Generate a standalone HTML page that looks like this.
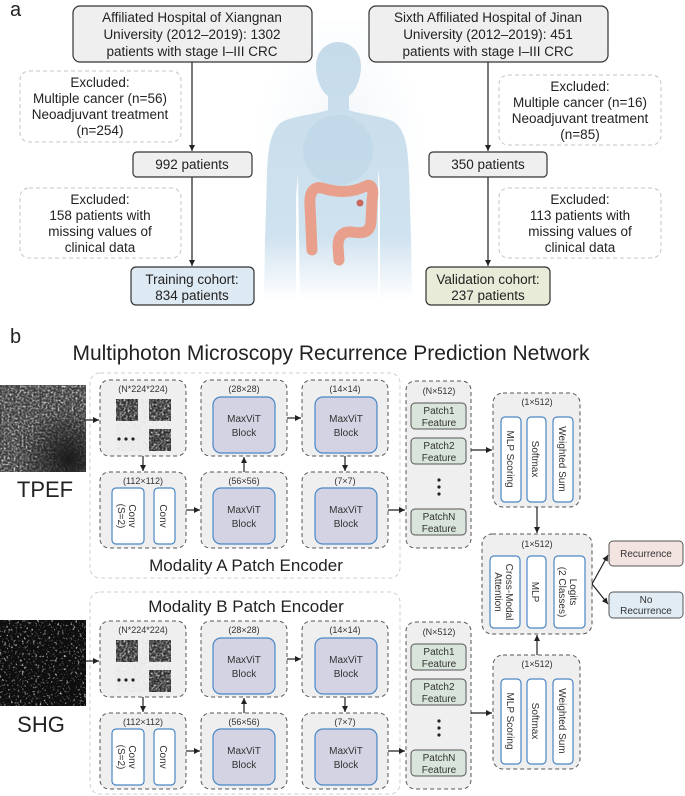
<!DOCTYPE html>
<html><head><meta charset="utf-8"><style>
html,body{margin:0;padding:0;background:#fff;}
svg{display:block;font-family:"Liberation Sans Narrow","Liberation Sans",sans-serif;}
</style></head><body>
<svg width="685" height="796" viewBox="0 0 685 796" xmlns="http://www.w3.org/2000/svg">
<defs>
<marker id="ar" markerWidth="8" markerHeight="8" refX="6" refY="3" orient="auto" markerUnits="userSpaceOnUse"><path d="M0,0 L6,3 L0,6 z" fill="#222"/></marker>
<linearGradient id="body" x1="0" y1="0" x2="0" y2="1">
<stop offset="0" stop-color="#c6dbea"/><stop offset="0.75" stop-color="#cfe2ef"/><stop offset="1" stop-color="#ffffff"/></linearGradient>
<radialGradient id="glow" cx="0.5" cy="0.45" r="0.5"><stop offset="0" stop-color="#f2f6f9"/><stop offset="1" stop-color="#ffffff"/></radialGradient>
<filter id="tex" x="0" y="0" width="100%" height="100%"><feTurbulence type="fractalNoise" baseFrequency="0.5" numOctaves="2" seed="3"/><feColorMatrix type="matrix" values="0 0 0 0 0.75  0 0 0 0 0.75  0 0 0 0 0.75  1.2 1.2 1.2 0 -1.6"/></filter>
<filter id="tex2" x="0" y="0" width="100%" height="100%"><feTurbulence type="fractalNoise" baseFrequency="0.45" numOctaves="2" seed="8"/><feColorMatrix type="matrix" values="0 0 0 0 0.85  0 0 0 0 0.85  0 0 0 0 0.85  1.6 1.6 1.6 0 -2.6"/></filter>
<radialGradient id="dark" cx="0.8" cy="0.85" r="0.6"><stop offset="0" stop-color="#1a1a1a"/><stop offset="1" stop-color="#1a1a1a" stop-opacity="0"/></radialGradient>
</defs>

<!-- ===== Part a ===== -->
<text x="10" y="16" font-size="20" fill="#222">a</text>
<rect x="255" y="20" width="170" height="280" fill="url(#glow)"/>
<g>
<path d="M338,42 C326,42 316,52 316,66 C316,80 322,92 328,96 L328,110 C318,114 292,116 282,122 C270,130 268,150 267,175 L265,240 L264,300 L296,300 L296,200 C296,190 298,180 298,170 L300,300 L378,300 L378,170 C380,180 380,190 380,200 L380,300 L412,300 L411,240 L409,175 C408,150 406,130 394,122 C384,116 358,114 349,110 L349,96 C355,92 361,80 361,66 C361,52 351,42 338,42 Z" fill="url(#body)"/>
<ellipse cx="338" cy="150" rx="35" ry="35" fill="#b9d3e6" opacity="0.5"/>
</g>
<path d="M312,250 L310,205 C309,192 314,186 322,188 C335,192 350,194 366,186 C372,183 374,190 372,200 L371,222 C370,232 364,234 352,232 C343,231 338,236 338,246 L339,260" fill="none" stroke="#e8a08c" stroke-width="11" stroke-linecap="round" stroke-linejoin="round"/>
<circle cx="360" cy="203" r="3.5" fill="#c9685e"/>

<g font-size="13.5" fill="#222" text-anchor="middle">
<rect x="73" y="6" width="239" height="56" rx="7" fill="#efefef" stroke="#333" stroke-width="1.2"/>
<text x="192" y="22">Affiliated Hospital of Xiangnan</text>
<text x="192" y="39">University (2012–2019): 1302</text>
<text x="192" y="56">patients with stage I–III CRC</text>
<rect x="369" y="6" width="239" height="56" rx="7" fill="#efefef" stroke="#333" stroke-width="1.2"/>
<text x="488" y="22">Sixth Affiliated Hospital of Jinan</text>
<text x="488" y="39">University (2012–2019): 451</text>
<text x="488" y="56">patients with stage I–III CRC</text>

<rect x="20" y="71" width="161" height="71" rx="9" fill="#fff" stroke="#c4c4c4" stroke-dasharray="4,3"/>
<text x="100" y="87">Excluded:</text>
<text x="100" y="103">Multiple cancer (n=56)</text>
<text x="100" y="119">Neoadjuvant treatment</text>
<text x="100" y="135">(n=254)</text>
<rect x="499" y="75" width="162" height="70" rx="9" fill="#fff" stroke="#c4c4c4" stroke-dasharray="4,3"/>
<text x="580" y="91">Excluded:</text>
<text x="580" y="107">Multiple cancer (n=16)</text>
<text x="580" y="123">Neoadjuvant treatment</text>
<text x="580" y="139">(n=85)</text>

<rect x="133" y="152" width="119" height="25" rx="4" fill="#efefef" stroke="#333" stroke-width="1.2"/>
<text x="192" y="169">992 patients</text>
<rect x="429" y="152" width="118" height="25" rx="4" fill="#efefef" stroke="#333" stroke-width="1.2"/>
<text x="488" y="169">350 patients</text>

<rect x="20" y="188" width="161" height="70" rx="9" fill="#fff" stroke="#c4c4c4" stroke-dasharray="4,3"/>
<text x="100" y="204">Excluded:</text>
<text x="100" y="220">158 patients with</text>
<text x="100" y="236">missing values of</text>
<text x="100" y="252">clinical data</text>
<rect x="499" y="188" width="162" height="70" rx="9" fill="#fff" stroke="#c4c4c4" stroke-dasharray="4,3"/>
<text x="580" y="204">Excluded:</text>
<text x="580" y="220">113 patients with</text>
<text x="580" y="236">missing values of</text>
<text x="580" y="252">clinical data</text>

<rect x="131" y="267" width="123" height="38" rx="5" fill="#dde9f3" stroke="#333" stroke-width="1.2"/>
<text x="192" y="284">Training cohort:</text>
<text x="192" y="300">834 patients</text>
<rect x="426" y="267" width="124" height="38" rx="5" fill="#e7ebd8" stroke="#333" stroke-width="1.2"/>
<text x="488" y="284">Validation cohort:</text>
<text x="488" y="300">237 patients</text>
</g>
<g stroke="#222" stroke-width="1.2" marker-end="url(#ar)">
<line x1="192" y1="62" x2="192" y2="151"/>
<line x1="192" y1="177" x2="192" y2="266"/>
<line x1="488" y1="62" x2="488" y2="151"/>
<line x1="488" y1="177" x2="488" y2="266"/>
</g>

<!-- ===== Part b ===== -->
<text x="10" y="343" font-size="20" fill="#222">b</text>
<text x="331" y="360" font-size="21" fill="#222" text-anchor="middle">Multiphoton Microscopy Recurrence Prediction Network</text>

<rect x="0" y="385" width="86" height="87" fill="#3a3a3a"/>
<rect x="0" y="385" width="86" height="87" filter="url(#tex)"/>
<rect x="0" y="385" width="86" height="87" fill="url(#dark)"/>
<text x="45" y="497" font-size="22" text-anchor="middle" fill="#222" font-family="Liberation Sans,sans-serif">TPEF</text>
<rect x="0" y="620" width="86" height="86" fill="#0e0e0e"/>
<rect x="0" y="620" width="86" height="86" filter="url(#tex2)"/>
<text x="41" y="732" font-size="22" text-anchor="middle" fill="#222" font-family="Liberation Sans,sans-serif">SHG</text>

<rect x="90" y="373" width="310" height="205" rx="10" fill="#fff" stroke="#cfcfcf" stroke-dasharray="4,3"/>
<text x="246" y="571" font-size="17" text-anchor="middle" fill="#222">Modality A Patch Encoder</text>
<rect x="90" y="592" width="310" height="202" rx="10" fill="#fff" stroke="#cfcfcf" stroke-dasharray="4,3"/>
<text x="246" y="612" font-size="17" text-anchor="middle" fill="#222">Modality B Patch Encoder</text>

<g id="encA">
<g fill="#efefef" stroke="#555" stroke-dasharray="4,3" stroke-width="1">
<rect x="100" y="380" width="86" height="76" rx="9"/>
<rect x="201" y="380" width="86" height="76" rx="9"/>
<rect x="302" y="380" width="86" height="76" rx="9"/>
<rect x="100" y="472" width="86" height="76" rx="9"/>
<rect x="201" y="472" width="86" height="76" rx="9"/>
<rect x="302" y="472" width="86" height="76" rx="9"/>
</g>
<g font-size="9" fill="#333" text-anchor="middle">
<text x="143" y="392">(N*224*224)</text>
<text x="244" y="392">(28×28)</text>
<text x="345" y="392">(14×14)</text>
<text x="143" y="484">(112×112)</text>
<text x="244" y="484">(56×56)</text>
<text x="345" y="484">(7×7)</text>
</g>
<g fill="#d3d3e3" stroke="#4a86c5" stroke-width="1.2">
<rect x="213" y="397" width="62" height="56" rx="8"/>
<rect x="315" y="397" width="62" height="56" rx="8"/>
<rect x="213" y="488" width="62" height="56" rx="8"/>
<rect x="315" y="488" width="62" height="56" rx="8"/>
</g>
<g font-size="10" fill="#333" text-anchor="middle">
<text x="244" y="422">MaxViT</text><text x="244" y="436">Block</text>
<text x="346" y="422">MaxViT</text><text x="346" y="436">Block</text>
<text x="244" y="513">MaxViT</text><text x="244" y="527">Block</text>
<text x="346" y="513">MaxViT</text><text x="346" y="527">Block</text>
</g>
<g fill="#fff" stroke="#4a86c5" stroke-width="1.2">
<rect x="112" y="488" width="32" height="56" rx="4"/>
<rect x="154" y="488" width="21" height="56" rx="4"/>
</g>
<g font-size="10" fill="#333" text-anchor="middle">
<text transform="translate(128,516) rotate(90)" x="0" y="-1">Conv</text>
<text transform="translate(128,516) rotate(90)" x="0" y="10">(S=2)</text>
<text transform="translate(164,516) rotate(90)" x="0" y="4">Conv</text>
</g>
<g fill="#2e2e2e">
<rect x="116" y="399" width="22" height="22"/>
<rect x="149" y="399" width="22" height="22"/>
<rect x="149" y="429" width="22" height="22"/>
</g>
<g filter="url(#tex)">
<rect x="116" y="399" width="22" height="22"/>
<rect x="149" y="399" width="22" height="22"/>
<rect x="149" y="429" width="22" height="22"/>
</g>
<g fill="#222"><circle cx="119" cy="439" r="1.6"/><circle cx="126" cy="439" r="1.6"/><circle cx="133" cy="439" r="1.6"/></g>
<g stroke="#222" stroke-width="1.2" marker-end="url(#ar)">
<line x1="143" y1="456" x2="143" y2="471"/>
<line x1="186" y1="510" x2="200" y2="510"/>
<line x1="244" y1="472" x2="244" y2="457"/>
<line x1="287" y1="418" x2="301" y2="418"/>
<line x1="345" y1="456" x2="345" y2="471"/>
<line x1="388" y1="510" x2="405" y2="510"/>
</g>
<rect x="406" y="381" width="65" height="167" rx="9" fill="#efefef" stroke="#555" stroke-dasharray="4,3"/>
<text x="439" y="394" font-size="9" fill="#333" text-anchor="middle">(N×512)</text>
<g fill="#d9e5da" stroke="#555" stroke-width="1">
<rect x="411" y="403" width="55" height="26" rx="4"/>
<rect x="411" y="438" width="55" height="26" rx="4"/>
<rect x="411" y="509" width="55" height="26" rx="4"/>
</g>
<g font-size="10" fill="#333" text-anchor="middle">
<text x="439" y="414">Patch1</text><text x="439" y="426">Feature</text>
<text x="439" y="449">Patch2</text><text x="439" y="461">Feature</text>
<text x="439" y="520">PatchN</text><text x="439" y="532">Feature</text>
</g>
<g fill="#222"><circle cx="439" cy="480" r="1.6"/><circle cx="439" cy="487" r="1.6"/><circle cx="439" cy="494" r="1.6"/></g>
</g>
<use href="#encA" transform="translate(0,241)"/>
<line x1="86" y1="420" x2="99" y2="420" stroke="#222" stroke-width="1.2" marker-end="url(#ar)"/>
<line x1="86" y1="661" x2="99" y2="661" stroke="#222" stroke-width="1.2" marker-end="url(#ar)"/>

<g id="attA">
<rect x="493" y="393" width="87" height="114" rx="10" fill="#efefef" stroke="#555" stroke-dasharray="4,3"/>
<text x="537" y="405" font-size="9" fill="#333" text-anchor="middle">(1×512)</text>
<g fill="#fff" stroke="#4a86c5" stroke-width="1.2">
<rect x="501" y="417" width="20" height="85" rx="4"/>
<rect x="527" y="417" width="19" height="85" rx="4"/>
<rect x="553" y="417" width="20" height="85" rx="4"/>
</g>
<g font-size="10" fill="#333" text-anchor="middle">
<text transform="translate(511,459) rotate(90)" y="4">MLP Scoring</text>
<text transform="translate(536,459) rotate(90)" y="4">Softmax</text>
<text transform="translate(563,459) rotate(90)" y="4">Weighted Sum</text>
</g>
</g>
<use href="#attA" transform="translate(0,262)"/>
<line x1="471" y1="450" x2="492" y2="450" stroke="#222" stroke-width="1.2" marker-end="url(#ar)"/>
<line x1="471" y1="713" x2="492" y2="713" stroke="#222" stroke-width="1.2" marker-end="url(#ar)"/>

<rect x="482" y="534" width="110" height="100" rx="10" fill="#efefef" stroke="#555" stroke-dasharray="4,3"/>
<text x="537" y="547" font-size="9" fill="#333" text-anchor="middle">(1×512)</text>
<g fill="#fff" stroke="#4a86c5" stroke-width="1.2">
<rect x="490" y="556" width="30" height="72" rx="4"/>
<rect x="527" y="556" width="19" height="72" rx="4"/>
<rect x="554" y="556" width="31" height="72" rx="4"/>
</g>
<g font-size="10" fill="#333" text-anchor="middle">
<text transform="translate(505,592) rotate(90)" y="-1">Cross-Modal</text>
<text transform="translate(505,592) rotate(90)" y="10">Attention</text>
<text transform="translate(536,592) rotate(90)" y="4">MLP</text>
<text transform="translate(569,592) rotate(90)" y="-1">Logits</text>
<text transform="translate(569,592) rotate(90)" y="10">(2 Classes)</text>
</g>
<g stroke="#222" stroke-width="1.2" marker-end="url(#ar)">
<line x1="537" y1="507" x2="537" y2="533"/>
<line x1="537" y1="655" x2="537" y2="635"/>
<line x1="592" y1="584" x2="608" y2="555"/>
<line x1="592" y1="584" x2="608" y2="604"/>
</g>
<rect x="609" y="541" width="74" height="25" rx="4" fill="#f3e3e1" stroke="#555"/>
<text x="646" y="557" font-size="10" fill="#333" text-anchor="middle">Recurrence</text>
<rect x="609" y="592" width="74" height="26" rx="4" fill="#e1ecf4" stroke="#555"/>
<text x="646" y="603" font-size="10" fill="#333" text-anchor="middle">No</text>
<text x="646" y="614" font-size="10" fill="#333" text-anchor="middle">Recurrence</text>
</svg>
</body></html>
